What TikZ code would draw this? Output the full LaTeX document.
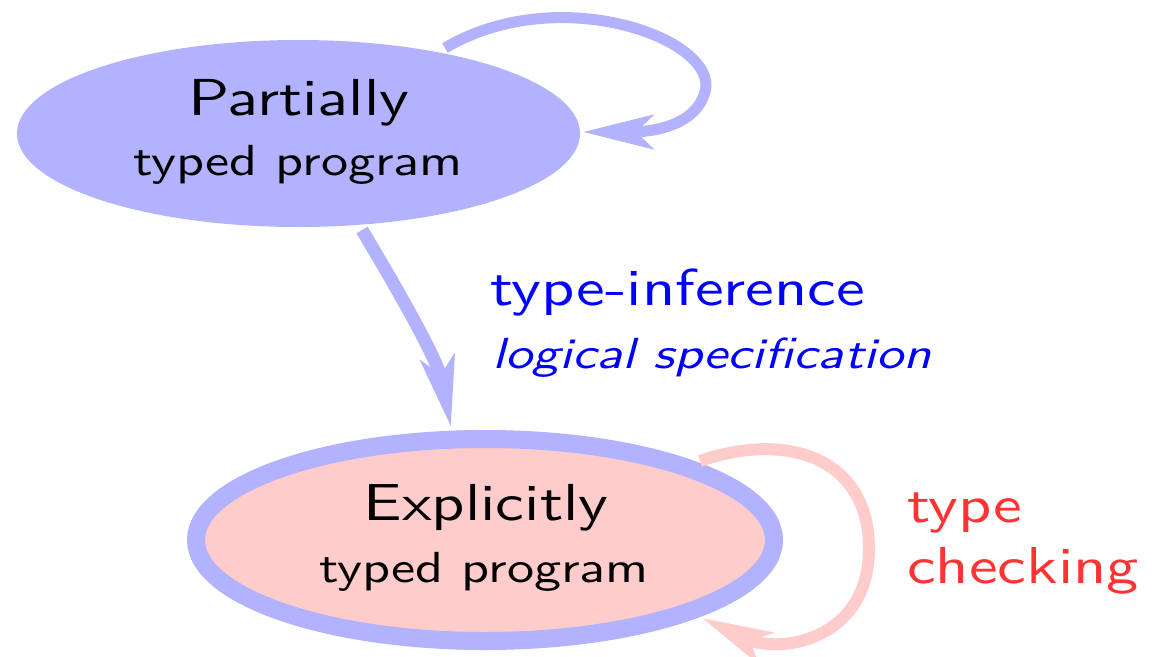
\documentclass[tikz,border=0pt]{standalone}
\usetikzlibrary{arrows.meta,shapes.geometric}
\colorlet{nodeblue}{blue!30}
\colorlet{nodered}{red!20}
\colorlet{checkred}{red!80}
% text is set at 10pt and stretched to the slide size
\newcommand\bigtxt[1]{\scalebox{6.45}[5.2]{#1}}
\newcommand\smalltxt[1]{\scalebox{5.42}[4.35]{#1}}
\tikzset{
  state/.style={ellipse, inner sep=0pt, fill=nodeblue},
  txt/.style={inner sep=0pt, font=\sffamily\fontsize{10}{12}\selectfont},
  ctxt/.style={txt, anchor=base},
  ltxt/.style={txt, anchor=base west},
  flow/.style={line width=11pt, draw=nodeblue,
    -{Stealth[length=70pt, width=34pt, inset=17pt]}},
  loopred/.style={flow, draw=nodered, line width=12pt},
}
\begin{document}
\begin{tikzpicture}[x=1pt, y=-1pt]
\useasboundingbox (0,0) rectangle (1159,656);

% the two program states
\node[state, minimum width=563pt, minimum height=187pt] (partial) at (298.5,133.5) {};
\node[state, fill=nodered, draw=nodeblue, line width=18pt,
      minimum width=578pt, minimum height=202pt] (explicit) at (485,540) {};

\node[ctxt] (ptitle) at (299,115) {\bigtxt{Partially}};
\node[ctxt] (psub)   at (298,175) {\smalltxt{typed program}};
\node[ctxt] (etitle) at (486,520) {\bigtxt{Explicitly}};
\node[ctxt] (esub)   at (484,582) {\smalltxt{typed program}};

% anchors of the connectors on the ellipse borders
\coordinate (pl0) at (445,48);
\coordinate (pl1) at (583,132);
\coordinate (inf0) at (362,230);
\coordinate (inf1) at (451,427);
\coordinate (el0) at (700,461);
\coordinate (el1) at (702,618);

% refinement loop on the partially typed program
\draw[flow] (pl0) .. controls (560,-20) and (720,40) .. (705,92)
  .. controls (695,127) and (650,132) .. (pl1);

% type inference step
\draw[flow, line width=13pt] (inf0) .. controls (395,285) and (438,360) .. (inf1);

% type checking loop on the explicitly typed program
\draw[loopred] (el0) .. controls (790,430) and (870,460) .. (869,550)
  .. controls (868,640) and (780,655) .. (el1);

% labels
\node[ltxt, text=blue] (inflabel) at (490,305) {\bigtxt{type-inference}};
\node[ltxt, text=blue, font=\sffamily\itshape\fontsize{10}{12}\selectfont]
  (speclabel) at (492,368) {\smalltxt{logical specification}};
\node[ltxt, text=checkred] (checklabel) at (907,522) {\bigtxt{type}};
\node[ltxt, text=checkred] (checklabel2) at (907,583) {\bigtxt{checking}};
\end{tikzpicture}
\end{document}
